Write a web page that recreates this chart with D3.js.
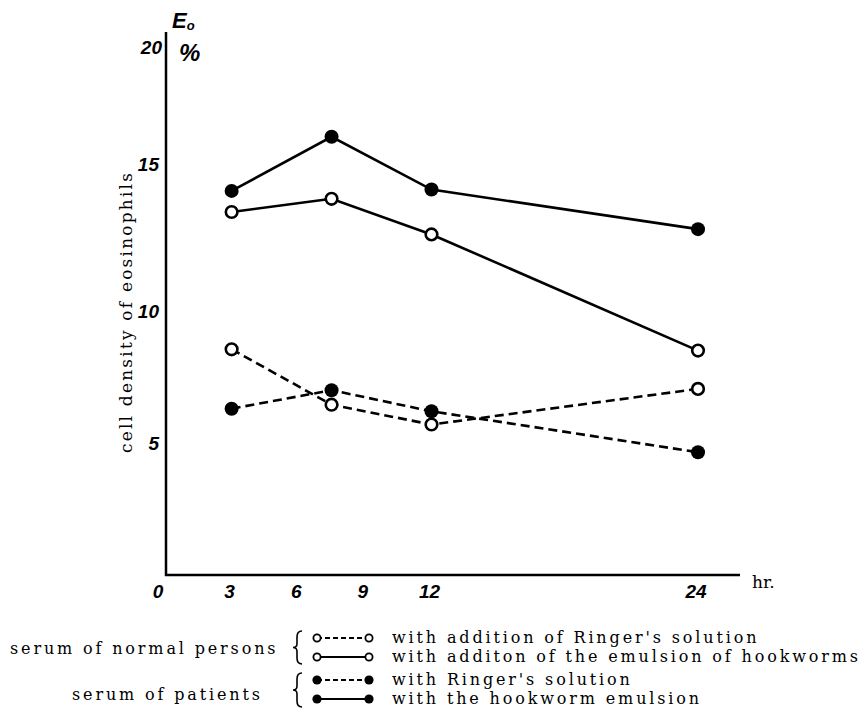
<!DOCTYPE html>
<html lang="en">
<head>
    <meta charset="UTF-8">
    <title>Eosinophil cell density</title>
    <script src="https://d3js.org/d3.v7.min.js"></script>
    <style>
        body, html {
            margin: 0;
            background: #fff;
            overflow: hidden;
        }
        .hand {
            font-family: "Liberation Sans", sans-serif;
            font-style: italic;
            font-weight: bold;
        }
        .serif {
            font-family: "DejaVu Serif", serif;
        }
    </style>
</head>
<body>
    <div id="chart"></div>
    <script>
        // hours after start
        var hours = [3, 7.5, 12, 24];

        // cell density of eosinophils (%)
        var normalRinger = [8.55, 6.45, 5.7, 7.05];
        var normalHookworm = [13.75, 14.25, 12.9, 8.5];
        var patientRinger = [6.3, 7.0, 6.2, 4.65];
        var patientHookworm = [14.55, 16.6, 14.6, 13.1];

        // tick labels
        var xTicks = [0, 3, 6, 9, 12, 24];
        var yTicks = [5, 10, 15, 20];

        var series = [
            { values: normalRinger, open: true, dashed: true },
            { values: patientRinger, open: false, dashed: true },
            { values: normalHookworm, open: true, dashed: false },
            { values: patientHookworm, open: false, dashed: false }
        ];

        var legendGroups = [
            { label: "serum of normal persons", open: true,
              items: ["with addition of Ringer's solution", "with additon of the emulsion of hookworms"] },
            { label: "serum of patients", open: false,
              items: ["with Ringer's solution", "with the hookworm emulsion"] }
        ];

        var width = 867, height = 712;

        var svg = d3.select("#chart").append("svg")
            .attr("width", width)
            .attr("height", height);

        var x = d3.scaleLinear().domain([0, 24]).range([165, 698]);
        var y = d3.scaleLinear().domain([0, 20]).range([575, 47]);

        // axes (plain lines, no tick marks)
        svg.append("line")
            .attr("x1", x(0) + 1).attr("x2", x(0) + 1)
            .attr("y1", 32).attr("y2", y(0) + 1)
            .attr("stroke", "#000").attr("stroke-width", 2.5);
        svg.append("line")
            .attr("x1", x(0)).attr("x2", 740)
            .attr("y1", y(0)).attr("y2", y(0))
            .attr("stroke", "#000").attr("stroke-width", 2.5);

        // x tick labels
        svg.selectAll(".xt").data(xTicks).enter().append("text")
            .attr("class", "hand")
            .attr("x", function (d) { return x(d) + (d === 0 ? -7 : -2); })
            .attr("y", 598)
            .attr("text-anchor", "middle")
            .attr("font-size", 19)
            .text(function (d) { return d; });

        svg.append("text")
            .attr("class", "serif")
            .attr("x", 752).attr("y", 588)
            .attr("font-size", 17)
            .text("hr.");

        // y tick labels (hand lettered, the 15 sits a bit high)
        svg.selectAll(".yt").data(yTicks).enter().append("text")
            .attr("class", "hand")
            .attr("x", function (d) { return d === 20 ? 162 : 159; })
            .attr("y", function (d) { return y(d) + (d === 15 ? -8 : 7); })
            .attr("text-anchor", "end")
            .attr("font-size", 19)
            .text(function (d) { return d; });

        // unit  E0 / %
        var unit = svg.append("text").attr("class", "hand").attr("x", 172).attr("y", 28).attr("font-size", 22);
        unit.append("tspan").text("E");
        unit.append("tspan").attr("font-size", 13).attr("dy", 2).text("o");
        svg.append("text").attr("class", "hand")
            .attr("x", 179).attr("y", 61).attr("font-size", 24)
            .text("%");

        // y axis title
        svg.append("text")
            .attr("class", "serif")
            .attr("transform", "translate(132,313) rotate(-90)")
            .attr("text-anchor", "middle")
            .attr("font-size", 17)
            .attr("textLength", 280)
            .attr("lengthAdjust", "spacing")
            .text("cell density of eosinophils");

        // series lines
        var line = d3.line()
            .x(function (d, i) { return x(hours[i]); })
            .y(function (d) { return y(d); });

        series.forEach(function (s) {
            svg.append("path")
                .datum(s.values)
                .attr("fill", "none")
                .attr("stroke", "#000")
                .attr("stroke-width", 2.6)
                .attr("stroke-dasharray", s.dashed ? "9,5" : null)
                .attr("d", line);
        });

        series.forEach(function (s) {
            svg.selectAll(null).data(s.values).enter().append("circle")
                .attr("cx", function (d, i) { return x(hours[i]); })
                .attr("cy", function (d) { return y(d); })
                .attr("r", s.open ? 5.8 : 7)
                .attr("fill", s.open ? "#fff" : "#000")
                .attr("stroke", "#000")
                .attr("stroke-width", s.open ? 2.6 : 0);
        });

        // curly brace pointing left, between y0 and y1
        function brace(xr, y0, y1) {
            var m = (y0 + y1) / 2, w = 5;
            return "M" + xr + "," + y0 +
                " Q" + (xr - w) + "," + y0 + " " + (xr - w) + "," + (y0 + 6) +
                " L" + (xr - w) + "," + (m - 4) +
                " Q" + (xr - w) + "," + m + " " + (xr - w - 4) + "," + m +
                " Q" + (xr - w) + "," + m + " " + (xr - w) + "," + (m + 4) +
                " L" + (xr - w) + "," + (y1 - 6) +
                " Q" + (xr - w) + "," + y1 + " " + xr + "," + y1;
        }

        // legend
        var rowY = [[638, 657], [680, 699]];
        var braceY = [[631, 664], [673, 707]];
        var labelPos = [[10, 654], [72, 700]];
        var legendTexts = [];
        legendGroups.forEach(function (g, gi) {
            legendTexts.push(svg.append("text")
                .attr("class", "serif")
                .attr("x", labelPos[gi][0]).attr("y", labelPos[gi][1])
                .attr("font-size", 16)
                .text(g.label));

            svg.append("path")
                .attr("d", brace(302, braceY[gi][0], braceY[gi][1]))
                .attr("fill", "none")
                .attr("stroke", "#000")
                .attr("stroke-width", 1.6);

            g.items.forEach(function (t, i) {
                var cy = rowY[gi][i];
                svg.append("line")
                    .attr("x1", 317).attr("x2", 369)
                    .attr("y1", cy).attr("y2", cy)
                    .attr("stroke", "#000")
                    .attr("stroke-width", 2)
                    .attr("stroke-dasharray", i === 0 ? "5,3" : null);
                [317, 369].forEach(function (cx) {
                    svg.append("circle")
                        .attr("cx", cx).attr("cy", cy)
                        .attr("r", g.open ? 3.6 : 4.6)
                        .attr("fill", g.open ? "#fff" : "#000")
                        .attr("stroke", "#000")
                        .attr("stroke-width", g.open ? 1.8 : 0);
                });
                legendTexts.push(svg.append("text")
                    .attr("class", "serif")
                    .attr("x", 392).attr("y", cy + 5)
                    .attr("font-size", 16)
                    .text(t));
            });
        });

        // spread the legend type evenly so the longest line ends at the right edge
        var longest = legendTexts[2];
        var natural = longest.node().getComputedTextLength();
        var n = longest.text().length;
        var spacing = Math.max(0, (466 - natural) / (n - 1));
        legendTexts.forEach(function (t) {
            t.style("letter-spacing", spacing + "px");
        });
    </script>
</body>
</html>
